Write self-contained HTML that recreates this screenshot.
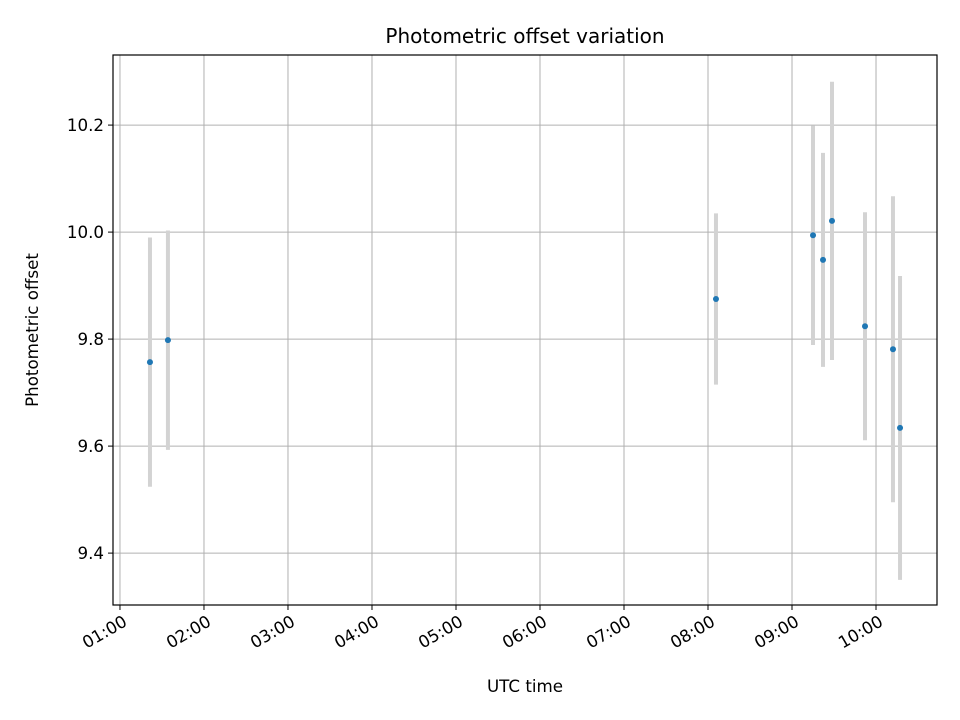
<!DOCTYPE html>
<html><head><meta charset="utf-8"><style>
html,body{margin:0;padding:0;background:#fff;}
svg{display:block;font-family:"DejaVu Sans","Liberation Sans",sans-serif;}
</style></head><body>
<svg id="chart" width="960" height="720" xmlns="http://www.w3.org/2000/svg">
<rect width="960" height="720" fill="#fff"/>
<g id="grid"></g>
<g id="marks"></g>
<rect x="113" y="55" width="824" height="550" fill="none" stroke="#000" stroke-width="1.2"/>
<g id="axes"></g>
<text x="525" y="43" font-size="20" text-anchor="middle">Photometric offset variation</text>
<text x="525" y="692" font-size="16.7" text-anchor="middle">UTC time</text>
<text x="38" y="330" font-size="16.7" text-anchor="middle" transform="rotate(-90 38 330)">Photometric offset</text>
</svg>
<script>
const times = [1.357, 1.571, 8.095, 9.25, 9.369, 9.476, 9.869, 10.202, 10.286]; // hours UTC
const offsets = [9.757, 9.798, 9.875, 9.994, 9.948, 10.021, 9.824, 9.781, 9.634];
const errors = [0.233, 0.205, 0.16, 0.205, 0.2, 0.26, 0.213, 0.286, 0.284];
const yTicks = [9.4, 9.6, 9.8, 10.0, 10.2];
const xTicks = [1,2,3,4,5,6,7,8,9,10];
const L=113,R=937,T=55,B=605;
const xMin=0.917,xMax=10.726,yMin=9.303,yMax=10.331;
const xs=h=>L+(h-xMin)/(xMax-xMin)*(R-L);
const ys=v=>B-(v-yMin)/(yMax-yMin)*(B-T);
const NS="http://www.w3.org/2000/svg";
function mk(tag,attrs,parent){const e=document.createElementNS(NS,tag);for(const k in attrs)e.setAttribute(k,attrs[k]);parent.appendChild(e);return e;}
const grid=document.getElementById('grid'),marks=document.getElementById('marks'),axes=document.getElementById('axes');
xTicks.forEach(h=>{
  const x=xs(h);
  const g=mk('line',{x1:x,x2:x,y1:T,y2:B,stroke:'#b0b0b0','stroke-width':1},grid);
  
  
  const t=mk('line',{x1:x,x2:x,y1:B,y2:B+5,stroke:'#000','stroke-width':1},axes);
  
  
  const ax=x+2, ay=B+9;
  const lbl=mk('text',{x:ax,y:ay,dy:'0.75em','font-size':16.7,'text-anchor':'end',transform:`rotate(-30 ${ax} ${ay})`},axes);
  lbl.textContent=String(h).padStart(2,'0')+':00';
  
  
});
yTicks.forEach(v=>{
  const y=ys(v);
  const g=mk('line',{x1:L,x2:R,y1:y,y2:y,stroke:'#b0b0b0','stroke-width':1},grid);
  
  
  const t=mk('line',{x1:L-5,x2:L,y1:y,y2:y,stroke:'#000','stroke-width':1},axes);
  
  
  const lbl=mk('text',{x:L-9,y:y+6,'font-size':16.7,'text-anchor':'end'},axes);
  lbl.textContent=v.toFixed(1);
  
  
});
times.forEach((h,i)=>{
  const x=xs(h);
  const e=mk('line',{x1:x,x2:x,y1:ys(offsets[i]+errors[i]),y2:ys(offsets[i]-errors[i]),stroke:'#d3d3d3','stroke-width':4},marks);
  
  
});
times.forEach((h,i)=>{
  const c=mk('circle',{cx:xs(h),cy:ys(offsets[i]),r:3,fill:'#1f77b4'},marks);
  
  
});
</script>
</body></html>
